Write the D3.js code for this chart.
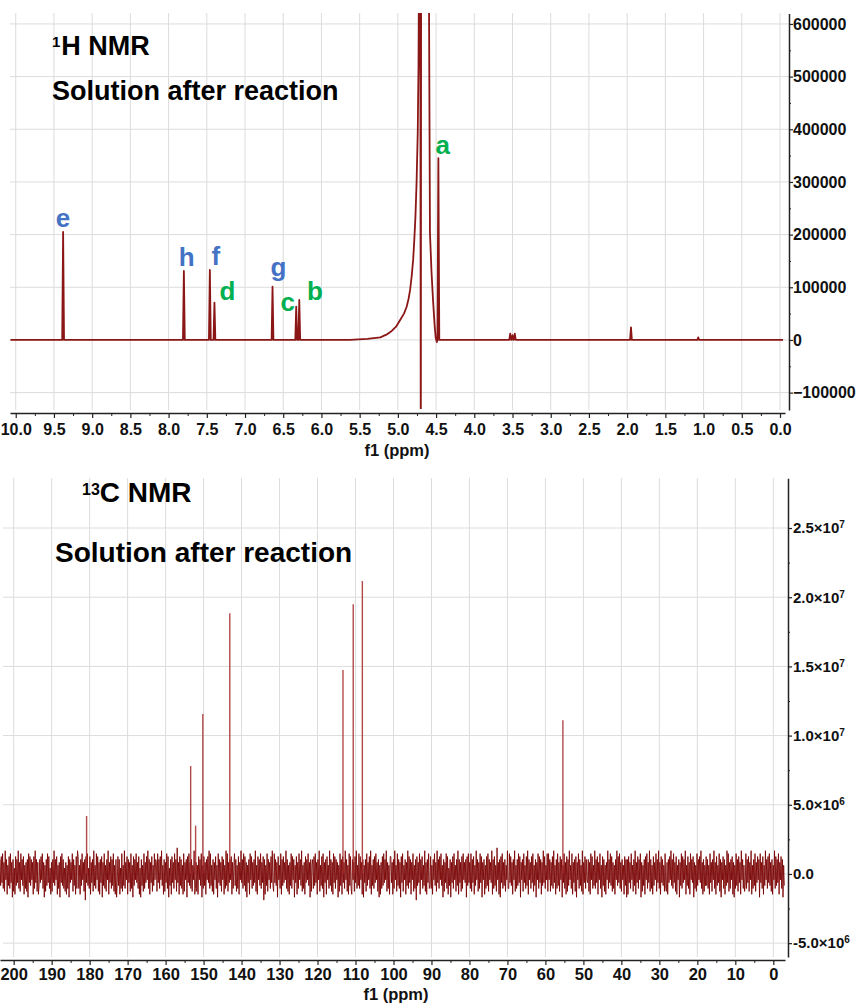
<!DOCTYPE html>
<html><head><meta charset="utf-8">
<script src="https://cdn.jsdelivr.net/npm/d3@7"></script>
<style>
body{margin:0;background:#fff;}
svg{display:block;}
text{font-family:Arial,"Liberation Sans",sans-serif;font-weight:bold;}
</style>
</head><body>
<svg id="c" width="857" height="1005"></svg>
<script>
// ================= DATA =================
// 1H panel
const h1XTicks = [10.0,9.5,9.0,8.5,8.0,7.5,7.0,6.5,6.0,5.5,5.0,4.5,4.0,3.5,3.0,2.5,2.0,1.5,1.0,0.5,0.0];
const h1YTicks = [-100000,0,100000,200000,300000,400000,500000,600000];
const h1PeakPpm = [9.38, 7.80, 7.46, 7.40, 6.64, 6.33, 6.29, 4.47, 3.53, 3.50, 3.47, 1.95, 1.07];
const h1PeakInt = [205000, 131000, 133000, 71000, 101000, 63000, 76000, 345000, 12000, 9000, 12000, 24000, 5000];
// residual water signal (HDO) read point by point
const waterPpm = [5.63, 5.40, 5.23, 5.15, 5.08, 5.02, 4.97, 4.92, 4.885, 4.86, 4.84, 4.82, 4.80, 4.785, 4.77, 4.755, 4.74, 4.73, 4.72, 4.705, 4.700, 4.695, 4.600, 4.58, 4.56, 4.54, 4.52, 4.505, 4.49];
const waterInt = [0, 2000, 5000, 10000, 17000, 26000, 38000, 50000, 63000, 78000, 95000, 120000, 152000, 190000, 234000, 300000, 393000, 520000, 800000, 490000, -300000, 900000, 900000, 203000, 130000, 76000, 30000, 4000, -4000];
const h1LabelText = ["e","h","f","d","g","c","b","a"];
const h1LabelColor = ["#4472c4","#4472c4","#4472c4","#00b050","#4472c4","#00b050","#00b050","#00b050"];
const h1LabelPpm = [9.381, 7.763, 7.383, 7.231, 6.564, 6.441, 6.084, 4.413];
const h1LabelInt = [214500, 139500, 142400, 75900, 121500, 54100, 75900, 353100];

// 13C panel
const c13XTicks = [200,190,180,170,160,150,140,130,120,110,100,90,80,70,60,50,40,30,20,10,0];
const c13YTicks = [-5e6, 0, 5e6, 1e7, 1.5e7, 2e7, 2.5e7];
const c13YMant = ["-5.0","0.0","5.0","1.0","1.5","2.0","2.5"];
const c13YExp = ["6","","6","7","7","7","7"];
const c13PeakPpm = [180.8, 153.4, 152.1, 150.2, 143.1, 113.3, 110.6, 108.2, 55.4];
const c13PeakInt = [4.19e6, 7.80e6, 3.49e6, 11.56e6, 18.84e6, 14.74e6, 19.49e6, 21.17e6, 11.1e6];
// baseline noise samples, hand typed: A..I = +1..+9 units, a..i = -1..-9 units
const c13NoiseUnit = 2.1e5;
const c13NoiseStartPpm = 203.6, c13NoiseEndPpm = -2.9;
const c13NoiseCodes =
 "EdFcGeDfHbEgCdFeGcDhEfBgFdEcHeDfGbEdFgCeDfEhGcFdEbDgFeHcEfDg" +
 "dEcFbGeDhCfEdGcFeBgDfEcHdEbFgCeDhFcGdEeBfDgCeFhEcDbGfEdCgFeH" +
 "FeCgEdGbDfEiFcGdBeFgDcEfHdCeGbFfDgEcFhDdGeCfEbHgDcFeEdGfCgEh" +
 "cFdEgBeGfCdHeDbFgEcDfGeChFdEbGcDeFgBhEdCfGeDcFbHeEgDcFfCdGbE" +
 "DfGcEeFbHdCgEfDcGeFhBdEgFcDeGbEfIcDgFdEeCgGfDbEhFcGdDeEfCbHg" +
 "eDfCgFbEdGhCeFdDgEbFcHeGdCfEgDbFeChGcEdDfFbEgCeHdGfDcEbFgDeC" +
 "GdEfCeFgDbHcEeGdFfDhCcEgGbFeDdEcHfCgFbEdGeDcFiEgCdGfEbDeFcHd" +
 "fGcEdDhFbCeGgEdFcDbHeEfCgDdGeFbEhCcFgDeGbEdHfCeDgFcEbGdDhEfC" +
 "EeFdGcDgEbHfCdFeGhDcEgFbCeHdEfDgGcFeEbDhCfGdEgFcDeHbEfCgGdFe" +
 "gEbDfFcHeCdGeFbDgEhCcEfGdDbFeHgCdEeFcGbDfEhCgDeFdGcEbHfDeCgF" +
 "FcDgEeHbCfGdEeDhFcGfCbEgDdHeFcEgDbGfCeEiFdDcGgEbFeCdHfDgEcGe" +
 "dFeCgEbGdDfHcEeFbGdChEfDcGeFgBdEhDcFeGbCfEdHgEcDfFeGbDcEhFdGc" +
 "DeGfEcFgCdHbEfDeGcFhDbEgCeFdGfEbDcHgEeFdCfIbDgEhFcGeDdEfCbHe" +
 "eGcFdDgEbHfCeEdGcFhDbEfGcCeFdHgEbDeFcGfCdEhDbGeFcEgDdHcFeCbGf" +
 "GbEfDdFeHcCgEeGdDfFbEhCcGeDgFfEdHbCeGgDcEfFhDbGeEdCfHgDcFeEb" +
 "cEfDgGbFeCdHeEcFgDbGeChFdEfCgDbHeEcGdFfDeCgEbHdFcGeDfEbCgFdEh" +
 "EgFcDeGbCfEdHgDcFeEbGhDfCdEgFbGeDcHfEeCgFdDbGfEcHeDgFcEdCfGe" +
 "fDgEcFbHdEeGcDfFgCbEhDdGeFcEbHgCdFeDgGbEcFhDeCfGdEbFcHeDgEfCd" +
 "FdEeCgGcDfEbHeDgFdCcGfEhDbFeEgCdHcGfDeEbFgDhCeGdEfFcDgHbEeCf" +
 "dGeEcFfDbHgCeEdGfDcFbEhGcDeFgCdHbEeFcGdDfEgCbHeFdEcGgDbFeEhCd";

// ================= DRAW =================
const svg = d3.select("#c");
const GRID = "#dcdcdc", AXIS = "#222", SPEC = "#8b1616";

function styleAxis(g, fs){
  g.select(".domain").attr("stroke", AXIS).attr("stroke-width", 1.5);
  g.selectAll(".tick line").attr("stroke", AXIS).attr("stroke-width", 1.2);
  g.selectAll(".tick text").attr("fill", "#111").attr("font-size", fs)
    .attr("font-family", 'Arial,"Liberation Sans",sans-serif').attr("font-weight", "bold");
}
function midpoints(arr){ return d3.pairs(arr).map(([a,b]) => (a+b)/2); }

// ---------- 1H ----------
const x1 = d3.scaleLinear().domain([10.075, -0.0654]).range([10, 785]);
const y1 = d3.scaleLinear().domain([-133000, 620000]).range([410, 13.4]);

const g1 = svg.append("g");
g1.append("g").selectAll("line").data(h1XTicks).join("line")
  .attr("x1", d => x1(d)).attr("x2", d => x1(d)).attr("y1", 13).attr("y2", 410)
  .attr("stroke", GRID).attr("stroke-width", 1);
g1.append("g").selectAll("line").data(h1YTicks).join("line")
  .attr("x1", 10).attr("x2", 789).attr("y1", d => y1(d)).attr("y2", d => y1(d))
  .attr("stroke", GRID).attr("stroke-width", 1);

svg.append("clipPath").attr("id", "clip1").append("rect")
  .attr("x", 10).attr("y", 13).attr("width", 775).attr("height", 396);

// assemble spectrum points
let h1Pts = [[10.07, 0], [-0.04, 0]];
h1PeakPpm.forEach((p, i) => { h1Pts.push([p + 0.012, 0], [p, h1PeakInt[i]], [p - 0.012, 0]); });
waterPpm.forEach((p, i) => h1Pts.push([p, waterInt[i]]));
h1Pts.sort((a, b) => b[0] - a[0]);
const line1 = d3.line().x(d => x1(d[0])).y(d => y1(d[1]));
g1.append("path").datum(h1Pts).attr("d", line1).attr("clip-path", "url(#clip1)")
  .attr("fill", "none").attr("stroke", SPEC).attr("stroke-width", 1.8).attr("stroke-linejoin", "round");

// axes
const ax1 = g1.append("g").attr("transform", "translate(0,413)")
  .call(d3.axisBottom(x1).tickValues(h1XTicks).tickFormat(d3.format(".1f")).tickSize(5).tickSizeOuter(0));
styleAxis(ax1, 16);
ax1.selectAll(".tick text").attr("y", 22).attr("dy", 0);
const ax1m = g1.append("g").attr("transform", "translate(0,413)")
  .call(d3.axisBottom(x1).tickValues(midpoints(h1XTicks)).tickFormat("").tickSize(3));
ax1m.select(".domain").remove(); ax1m.selectAll("line").attr("stroke", AXIS);

const ay1 = g1.append("g").attr("transform", "translate(789,0)")
  .call(d3.axisRight(y1).tickValues(h1YTicks).tickFormat(d3.format("d")).tickSize(4).tickSizeOuter(0));
styleAxis(ay1, 16);
ay1.selectAll(".tick text").attr("x", 4);
const ay1m = g1.append("g").attr("transform", "translate(789,0)")
  .call(d3.axisRight(y1).tickValues(midpoints(h1YTicks)).tickFormat("").tickSize(2));
ay1m.select(".domain").remove(); ay1m.selectAll("line").attr("stroke", AXIS);

g1.append("text").attr("x", 397).attr("y", 456).attr("text-anchor", "middle")
  .attr("font-size", 16.5).attr("fill", "#111").text("f1 (ppm)");

// titles
const t1 = g1.append("text").attr("x", 52).attr("y", 55).attr("fill", "#000");
t1.append("tspan").attr("font-size", 15).attr("dy", -8.5).text("1");
t1.append("tspan").attr("font-size", 27).attr("dy", 8.5).attr("dx", 1).text("H NMR");
g1.append("text").attr("x", 52).attr("y", 100).attr("font-size", 27).attr("fill", "#000")
  .text("Solution after reaction");

// peak labels
g1.append("g").selectAll("text").data(h1LabelText).join("text")
  .attr("x", (d, i) => x1(h1LabelPpm[i])).attr("y", (d, i) => y1(h1LabelInt[i]))
  .attr("text-anchor", "middle").attr("font-size", 26).attr("fill", (d, i) => h1LabelColor[i])
  .text(d => d);

// ---------- 13C ----------
const x2 = d3.scaleLinear().domain([203.6, -3.08]).range([0, 785]);
const y2 = d3.scaleLinear().domain([-6.0e6, 2.86e7]).range([957, 478.2]);

const g2 = svg.append("g");
g2.append("g").selectAll("line").data(c13XTicks).join("line")
  .attr("x1", d => x2(d)).attr("x2", d => x2(d)).attr("y1", 478).attr("y2", 957)
  .attr("stroke", GRID).attr("stroke-width", 1);
g2.append("g").selectAll("line").data(c13YTicks).join("line")
  .attr("x1", 3).attr("x2", 788).attr("y1", d => y2(d)).attr("y2", d => y2(d))
  .attr("stroke", GRID).attr("stroke-width", 1);

svg.append("clipPath").attr("id", "clip2").append("rect")
  .attr("x", 0).attr("y", 478).attr("width", 786).attr("height", 479);

const noiseVals = Array.from(c13NoiseCodes).map(ch => {
  const up = ch >= "A" && ch <= "I";
  const k = up ? ch.charCodeAt(0) - 64 : -(ch.charCodeAt(0) - 96);
  return k * c13NoiseUnit;
});
const nN = noiseVals.length;
const noisePts = noiseVals.map((v, i) => [c13NoiseStartPpm + (c13NoiseEndPpm - c13NoiseStartPpm) * i / (nN - 1), v]);
const line2 = d3.line().x(d => x2(d[0])).y(d => y2(d[1]));
g2.append("path").datum(noisePts).attr("d", line2).attr("clip-path", "url(#clip2)")
  .attr("fill", "none").attr("stroke", "#780000").attr("stroke-width", 1.0).attr("stroke-opacity", 0.85);

g2.append("g").selectAll("path").data(c13PeakPpm).join("path")
  .attr("d", (p, i) => line2([[p, 0], [p, c13PeakInt[i]]]))
  .attr("fill", "none").attr("stroke", "#a52a2a").attr("stroke-width", 1.4).attr("stroke-opacity", 0.85);

const ax2 = g2.append("g").attr("transform", "translate(0,960)")
  .call(d3.axisBottom(x2).tickValues(c13XTicks).tickFormat(d3.format("d")).tickSize(5).tickSizeOuter(0));
styleAxis(ax2, 16.5);
ax2.selectAll(".tick text").attr("y", 20).attr("dy", 0);
const ax2m = g2.append("g").attr("transform", "translate(0,960)")
  .call(d3.axisBottom(x2).tickValues(midpoints(c13XTicks)).tickFormat("").tickSize(3));
ax2m.select(".domain").remove(); ax2m.selectAll("line").attr("stroke", AXIS);

const ay2 = g2.append("g").attr("transform", "translate(788,0)")
  .call(d3.axisRight(y2).tickValues(c13YTicks).tickFormat("").tickSize(4).tickSizeOuter(0));
styleAxis(ay2, 15);
ay2.selectAll(".tick text").attr("x", 5).each(function(d) {
  const idx = c13YTicks.indexOf(d);
  const t = d3.select(this);
  t.text(c13YMant[idx] + (c13YExp[idx] ? "×10" : ""));
  if (c13YExp[idx]) t.append("tspan").attr("dy", "-0.5em").attr("font-size", 10).text(c13YExp[idx]);
});
const ay2m = g2.append("g").attr("transform", "translate(788,0)")
  .call(d3.axisRight(y2).tickValues(midpoints(c13YTicks)).tickFormat("").tickSize(2));
ay2m.select(".domain").remove(); ay2m.selectAll("line").attr("stroke", AXIS);

g2.append("text").attr("x", 396).attr("y", 1000).attr("text-anchor", "middle")
  .attr("font-size", 16.5).attr("fill", "#111").text("f1 (ppm)");

const t2 = g2.append("text").attr("x", 82).attr("y", 502).attr("fill", "#000");
t2.append("tspan").attr("font-size", 16).attr("dy", -7).text("13");
t2.append("tspan").attr("font-size", 28).attr("dy", 7).attr("dx", 0).text("C NMR");
g2.append("text").attr("x", 55).attr("y", 562).attr("font-size", 28).attr("fill", "#000")
  .text("Solution after reaction");
</script>
</body></html>
